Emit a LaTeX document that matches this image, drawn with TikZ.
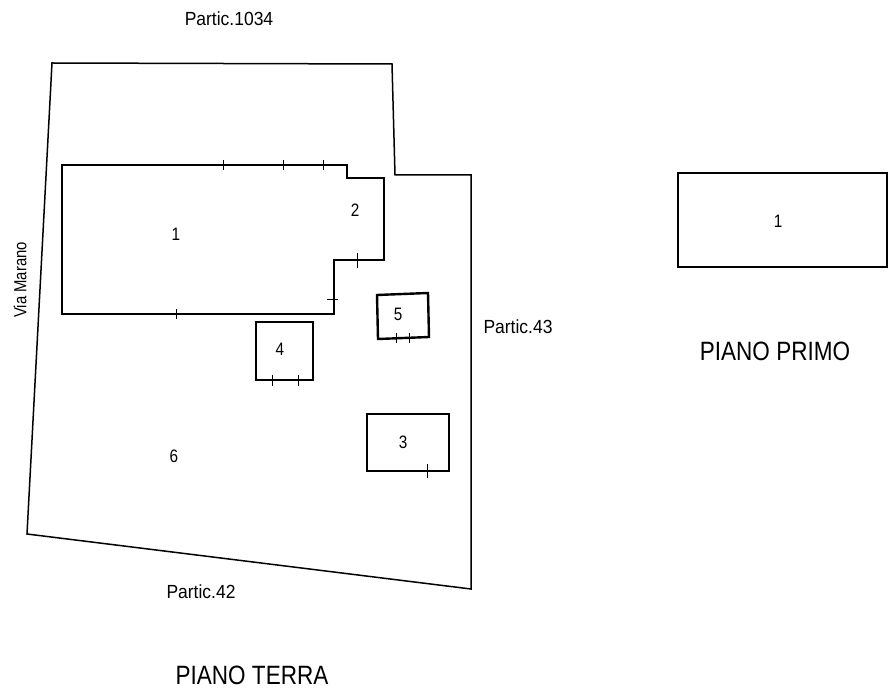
\documentclass[tikz,border=0pt]{standalone}
\usepackage{fontspec}
\newfontfamily\cadfont[FakeStretch=0.85]{Liberation Sans}
\newfontfamily\cadwidefont[FakeStretch=0.92]{Liberation Sans}
\begin{document}
\begin{tikzpicture}[%
	x=1pt,y=-1pt,
	plotline/.style={line width=1.5pt,line join=miter},
	roomline/.style={line width=2.4pt,line join=miter},
	tickline/.style={line width=0.8pt},
	smalllabel/.style={font=\cadwidefont\fontsize{19}{19}\selectfont,inner sep=0pt},
	streetlabel/.style={font=\cadfont\fontsize{17.5}{17.5}\selectfont,inner sep=0pt,rotate=90},
	roomlabel/.style={font=\cadfont\fontsize{18}{18}\selectfont,inner sep=0pt},
	floorlabel/.style={font=\cadfont\fontsize{26.5}{26.5}\selectfont,inner sep=0pt}]
	\useasboundingbox (0,0) rectangle (888,692);
	\draw[plotline] (52,63) -- (392,64) -- (395,175) -- (471,175) -- (471,589) -- (27,534) -- cycle;
	\draw[roomline] (62,165) -- (347,165) -- (347,178) -- (384,178) -- (384,260) -- (334,260) -- (334,314) -- (62,314) -- cycle;
	\draw[roomline] (256,322) rectangle (313,380);
	\draw[roomline] (377,295) -- (428,293) -- (429,337) -- (378,339) -- cycle;
	\draw[roomline] (367,414) rectangle (449,471);
	\draw[roomline] (678,173) rectangle (887,267);
	\draw[tickline] (223,160) -- (223,170);
	\draw[tickline] (283,160) -- (283,170);
	\draw[tickline] (323,160) -- (323,170);
	\draw[tickline] (176,309) -- (176,319);
	\draw[tickline] (357,253) -- (357,268);
	\draw[tickline] (327,299) -- (338,299);
	\draw[tickline] (272,375) -- (272,386);
	\draw[tickline] (298,375) -- (298,386);
	\draw[tickline] (396,333) -- (396,343);
	\draw[tickline] (409,333) -- (409,343);
	\draw[tickline] (427,464) -- (427,478);
	\node[roomlabel] (roomOne) at (176,234) {1};
	\node[roomlabel] (roomTwo) at (355,210) {2};
	\node[roomlabel] (roomThree) at (403,442) {3};
	\node[roomlabel] (roomFour) at (280,349) {4};
	\node[roomlabel] (roomFive) at (398,314) {5};
	\node[roomlabel] (roomSix) at (174,456) {6};
	\node[roomlabel] (upperOne) at (778,221) {1};
	\node[smalllabel] (northLabel) at (229,19) {Partic.1034};
	\node[smalllabel] (eastLabel) at (518,327) {Partic.43};
	\node[smalllabel] (southLabel) at (201,592) {Partic.42};
	\node[streetlabel] (viaLabel) at (20,280) {Via Marano};
	\node[floorlabel] (groundLabel) at (252,675) {PIANO TERRA};
	\node[floorlabel] (upperLabel) at (775,351) {PIANO PRIMO};
\end{tikzpicture}
\end{document}
